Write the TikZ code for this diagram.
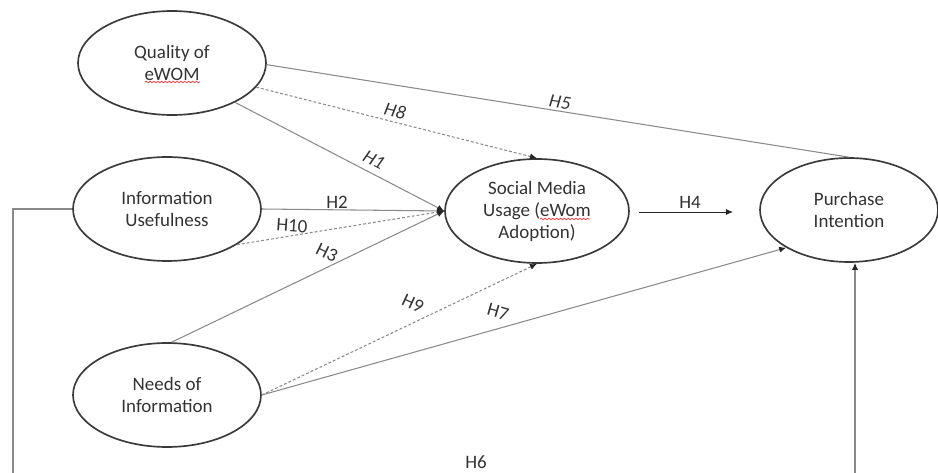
\documentclass[tikz,border=0pt]{standalone}
\usepackage{fontspec}
\setmainfont{Carlito}
\usetikzlibrary{shapes.geometric,arrows.meta,decorations.pathmorphing}
\definecolor{ln}{HTML}{8A8A8A}
\definecolor{ol}{HTML}{3A3A3A}
\definecolor{tx}{HTML}{333333}
\begin{document}
\begin{tikzpicture}[x=0.02cm,y=-0.02cm,
  ell/.style={ellipse, draw=ol, line width=0.95pt, minimum width=3.76cm, minimum height=2.08cm, inner sep=0pt, align=center, text=tx, font=\fontsize{10.8}{12.5}\selectfont},
  conn/.style={draw=ln, line width=0.6pt},
  dsh/.style={conn, dash pattern=on 1.6pt off 1.2pt},
  tip/.style={-{Latex[length=4pt,width=3.5pt,color=black!85]}},
  lbl/.style={text=tx, font=\fontsize{10.8}{12}\selectfont, inner sep=0pt},
  ilbl/.style={lbl, font=\fontsize{10.8}{12}\selectfont\itshape},
  squig/.style={draw=red!80, line width=0.4pt, decorate, decoration={snake, amplitude=0.45pt, segment length=2.2pt}}]
\useasboundingbox (0,0) rectangle (938,473);
\clip (0,0) rectangle (938,473);

% nodes
\node[ell] (q) at (172,63) {Quality of\\eWOM};
\node[ell] (iu) at (167,209) {Information\\Usefulness};
\node[ell] (ni) at (167,395) {Needs of\\Information};
\node[ell, minimum width=3.68cm] (sm) at (537,211) {Social Media\\Usage (eWom\\Adoption)};
\node[ell, minimum width=3.56cm] (pi) at (849,210) {Purchase\\Intention};

% spell-check underlines
\draw[squig] (145,82) -- (200,82);
\draw[squig] (540,219) -- (590,219);

% free ends
\coordinate (h4a) at (639,212);
\coordinate (h4b) at (733,212);
\coordinate (bl) at (13,490);
\coordinate (br) at (855,490);

% connectors
\draw[conn] (q.-1) -- (pi.north);
\draw[dsh, tip] (q.-16) -- (sm.north);
\draw[conn, tip] (q.-32) -- (sm.west);
\draw[conn, tip] (iu.east) -- (sm.west);
\draw[dsh, tip] (iu.-27) -- (sm.west);
\draw[conn, tip] (ni.85) -- (sm.west);
\draw[dsh, tip] (ni.east) -- (sm.south);
\draw[conn, tip] (ni.east) -- (pi.211);
\draw[tip, draw=black!85, line width=0.5pt] (h4a) -- (h4b);
\draw[conn, tip] (iu.west) -| (bl) -- (br) -- (pi.south -| br);

% labels
\node[ilbl, rotate=-9] (l5) at (560,102) {H5};
\node[ilbl, rotate=-14] (l8) at (395,111) {H8};
\node[ilbl, rotate=-28] (l1) at (374,160) {H1};
\node[lbl] (l2) at (337,202) {H2};
\node[lbl, rotate=-4] (l10) at (292,226) {H10};
\node[lbl, rotate=-26] (l3) at (327,253) {H3};
\node[lbl, rotate=-25] (l9) at (413,303) {H9};
\node[lbl, rotate=-16] (l7) at (498,312) {H7};
\node[lbl] (l4) at (690,202) {H4};
\node[lbl] (l6) at (476,462) {H6};
\end{tikzpicture}
\end{document}
